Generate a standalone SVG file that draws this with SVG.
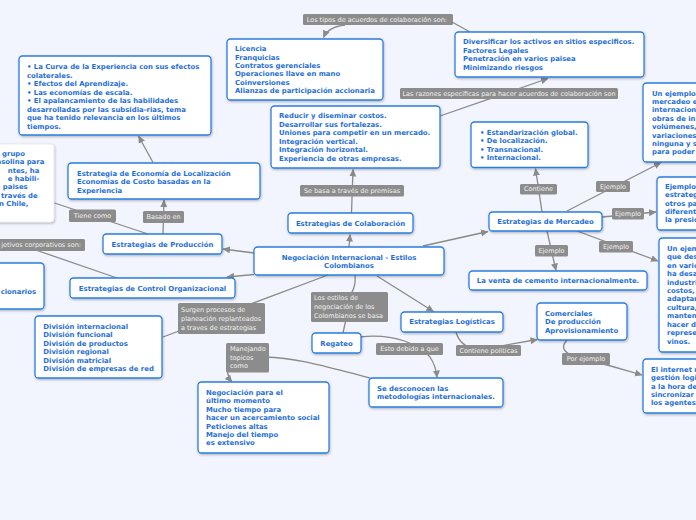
<svg xmlns="http://www.w3.org/2000/svg" width="696" height="520" viewBox="0 0 696 520">
<defs>
<filter id="sh" x="-10%" y="-10%" width="130%" height="140%"><feDropShadow dx="0.6" dy="1.2" stdDeviation="0.8" flood-color="#000" flood-opacity="0.28"/></filter>
<marker id="ar" markerWidth="8" markerHeight="8" refX="7" refY="4" orient="auto" markerUnits="userSpaceOnUse"><path d="M0,0.5 L7.5,4 L0,7.5 z" fill="#8a8a8a"/></marker>
<style>
.n{fill:#fff;stroke:#2a7de1;stroke-width:1.3;filter:url(#sh)}
.u{fill:#fff;stroke:#e2e6ee;stroke-width:0.8;filter:url(#sh)}
.t{font-family:"DejaVu Sans",Verdana,sans-serif;font-size:6.9px;font-weight:bold;fill:#1f6fd6}
.m{text-anchor:middle}
.lb{fill:#8c8c8c}
.lt{font-family:"DejaVu Sans",Verdana,sans-serif;font-size:6.5px;fill:#f2f2f2}
.c{fill:none;stroke:#8a8a8a;stroke-width:1.3}
.a{marker-end:url(#ar)}
</style>
</defs>
<rect width="696" height="520" fill="#f2f5fd"/>
<g id="connectors">
<path class="c" d="M470,32 L452,22"/>
<path class="c a" d="M345,25 Q328,27 323.5,37.5"/>
<path class="c a" d="M440,116 L548,78.5"/>
<path class="c a" d="M351.5,213 L353,169.5"/>
<path class="c a" d="M349,247 L350,234.5"/>
<path class="c a" d="M423,246 L488,231.5"/>
<path class="c a" d="M542,212 L535.5,168.5"/>
<path class="c a" d="M567,211 L661,162.5"/>
<path class="c a" d="M602,217 L656,212"/>
<path class="c a" d="M577,231 L658,261"/>
<path class="c a" d="M547,231 L556,270.5"/>
<path class="c a" d="M254,253 L223,249"/>
<path class="c a" d="M254,274.5 L227,277"/>
<path class="c a" d="M163,234 L164,200"/>
<path class="c a" d="M153,162.5 L138.5,136"/>
<path class="c" d="M148,234 L53,202.5"/>
<path class="c" d="M117,278 L30,248"/>
<path class="c" d="M328,275 L163,337"/>
<path class="c" d="M355,275 Q356,285 352,292 L343,333"/>
<path class="c a" d="M377,276 L433.5,311.5"/>
<path class="c a" d="M456,332 Q460,347 478,350 L537.5,339.5"/>
<path class="c a" d="M567,340 Q556,352 580,358 Q612,366 642,375"/>
<path class="c a" d="M360,337 C395,333 420,345 430,357 Q436,366 437,377.5"/>
<path class="c" d="M370,378 C330,368 300,358 265,357"/>
<path class="c a" d="M229,364 Q225,374 232,382"/>
</g>
<g id="labels">
<rect class="lb" x="303" y="14" width="150" height="11" rx="1.5"/><text class="lt" x="306.7" y="21.6">Los tipos de acuerdos de colaboración son:</text>
<rect class="lb" x="400" y="88" width="218" height="11" rx="1.5"/><text class="lt" x="402.5" y="95.6">Las razones especificas para hacer acuerdos de colaboración son</text>
<rect class="lb" x="300" y="185" width="104" height="11.5" rx="1.5"/><text class="lt m" x="352" y="193">Se basa a través de premisas</text>
<rect class="lb" x="520" y="184" width="37" height="10.5" rx="1.5"/><text class="lt m" x="538.5" y="191.4">Contiene</text>
<rect class="lb" x="596" y="181" width="34" height="11" rx="1.5"/><text class="lt m" x="613" y="188.6">Ejemplo</text>
<rect class="lb" x="612" y="208" width="32" height="11.5" rx="1.5"/><text class="lt m" x="628" y="216">Ejemplo</text>
<rect class="lb" x="599" y="241" width="34" height="11.5" rx="1.5"/><text class="lt m" x="616" y="249">Ejemplo</text>
<rect class="lb" x="535" y="245" width="33" height="11.5" rx="1.5"/><text class="lt m" x="551.5" y="253.2">Ejemplo</text>
<rect class="lb" x="69" y="209.5" width="47" height="12.5" rx="1.5"/><text class="lt m" x="92.5" y="218">Tiene como</text>
<rect class="lb" x="143" y="211" width="41" height="12" rx="1.5"/><text class="lt m" x="163.5" y="219.2">Basado en</text>
<rect class="lb" x="-5" y="239" width="90" height="12" rx="1.5"/><text class="lt" x="81" y="247.2" text-anchor="end">jetivos corporativos son:</text>
<rect class="lb" x="178" y="303" width="87" height="31" rx="1.5"/><text class="lt" x="181" y="312.2">Surgen procesos de</text><text class="lt" x="181" y="321.2">planeación replanteados</text><text class="lt" x="181" y="329.9">a traves de estrategias</text>
<rect class="lb" x="311" y="292" width="77" height="30" rx="1.5"/><text class="lt" x="314" y="300.2">Los estilos de</text><text class="lt" x="314" y="309.1">negociación de los</text><text class="lt" x="314" y="318">Colombianos se basa</text>
<rect class="lb" x="226" y="343" width="43" height="29.5" rx="1.5"/><text class="lt" x="230" y="350.6">Manejando</text><text class="lt" x="230" y="359.5">topicos</text><text class="lt" x="230" y="368.3">como</text>
<rect class="lb" x="376" y="343" width="67" height="12" rx="1.5"/><text class="lt m" x="409.5" y="351.2">Esto debido a que</text>
<rect class="lb" x="456" y="345" width="65" height="11" rx="1.5"/><text class="lt m" x="488.5" y="352.9">Contiene politicas</text>
<rect class="lb" x="562" y="353" width="48" height="12" rx="1.5"/><text class="lt m" x="586" y="361.3">Por ejemplo</text>
</g>
<g id="nA"><rect class="n" x="19" y="56" width="192" height="79" rx="3.5"/>
<text class="t" x="27" y="69">• La Curva de la Experiencia con sus efectos</text>
<text class="t" x="27" y="77.5">colaterales.</text>
<text class="t" x="27" y="86">• Efectos del Aprendizaje.</text>
<text class="t" x="27" y="94.5">• Las economías de escala.</text>
<text class="t" x="27" y="103">• El apalancamiento de las habilidades</text>
<text class="t" x="27" y="111.5">desarrolladas por las subsidia-rias, tema</text>
<text class="t" x="27" y="120">que ha tenido relevancia en los últimos</text>
<text class="t" x="27" y="128.5">tiempos.</text></g>
<g id="nB"><rect class="n" x="227" y="39" width="156" height="61" rx="3.5"/>
<text class="t" x="235" y="51.4">Licencia</text>
<text class="t" x="235" y="59.7">Franquicias</text>
<text class="t" x="235" y="68">Contratos gerenciales</text>
<text class="t" x="235" y="76.3">Operaciones llave en mano</text>
<text class="t" x="235" y="84.6">Coinversiones</text>
<text class="t" x="235" y="92.9">Alianzas de participación accionaria</text></g>
<g id="nC"><rect class="n" x="455" y="32" width="189" height="45" rx="3.5"/>
<text class="t" x="463" y="44.1">Diversificar los activos en sitios especificos.</text>
<text class="t" x="463" y="52.7">Factores Legales</text>
<text class="t" x="463" y="61.2">Penetración en varios paisea</text>
<text class="t" x="463" y="69.8">Minimizando riesgos</text></g>
<g id="nD"><rect class="n" x="271" y="106" width="169" height="62" rx="3.5"/>
<text class="t" x="279" y="118.4">Reducir y diseminar costos.</text>
<text class="t" x="279" y="126.9">Desarrollar sus fortalezas.</text>
<text class="t" x="279" y="135.3">Uniones para competir en un mercado.</text>
<text class="t" x="279" y="143.8">Integración vertical.</text>
<text class="t" x="279" y="152.2">Integración horizontal.</text>
<text class="t" x="279" y="160.7">Experiencia de otras empresas.</text></g>
<g id="nE"><rect class="n" x="288" y="213" width="125" height="20" rx="3.5"/>
<text class="t m" x="350.5" y="225.7">Estrategias de Colaboración</text></g>
<g id="nF"><rect class="n" x="471" y="122" width="117" height="45.5" rx="3.5"/>
<text class="t" x="480" y="135">• Estandarización global.</text>
<text class="t" x="480" y="143.3">• De localización.</text>
<text class="t" x="480" y="151.7">• Transnacional.</text>
<text class="t" x="480" y="160">• Internacional.</text></g>
<g id="nG"><rect class="n" x="643" y="83" width="70" height="79" rx="3.5"/>
<text class="t" x="652" y="95.5">Un ejemplo</text>
<text class="t" x="652" y="103.9">mercadeo e</text>
<text class="t" x="652" y="112.3">internacion</text>
<text class="t" x="652" y="120.7">obras de in</text>
<text class="t" x="652" y="129.1">volúmenes,</text>
<text class="t" x="652" y="137.5">variaciones</text>
<text class="t" x="652" y="145.9">ninguna y s</text>
<text class="t" x="652" y="154.3">para poder</text></g>
<g id="nH"><rect class="n" x="657" y="177" width="60" height="53" rx="3.5"/>
<text class="t" x="665" y="189">Ejemplo</text>
<text class="t" x="665" y="197.3">estrateg</text>
<text class="t" x="665" y="205.7">otros pa</text>
<text class="t" x="665" y="214">diferent</text>
<text class="t" x="665" y="222.4">la presió</text></g>
<g id="nI"><rect class="n" x="659" y="238" width="60" height="114" rx="3.5"/>
<text class="t" x="667" y="250.7">Un ejem</text>
<text class="t" x="667" y="259.1">que des</text>
<text class="t" x="667" y="267.6">en vario</text>
<text class="t" x="667" y="276">ha desa</text>
<text class="t" x="667" y="284.5">industri</text>
<text class="t" x="667" y="292.9">costos,</text>
<text class="t" x="667" y="301.4">adaptar</text>
<text class="t" x="667" y="309.8">cultura,</text>
<text class="t" x="667" y="318.3">manten</text>
<text class="t" x="667" y="326.7">hacer d</text>
<text class="t" x="667" y="335.2">represe</text>
<text class="t" x="667" y="343.6">vinos.</text></g>
<g id="nJ"><rect class="n" x="643" y="359" width="70" height="54" rx="3.5"/>
<text class="t" x="651" y="371.7">El internet r</text>
<text class="t" x="651" y="380.1">gestión logi</text>
<text class="t" x="651" y="388.5">a la hora de</text>
<text class="t" x="651" y="396.9">sincronizar</text>
<text class="t" x="651" y="405.3">los agentes</text></g>
<g id="nK"><rect class="n" x="489" y="212" width="113" height="19" rx="3.5"/>
<text class="t m" x="545.5" y="224.1">Estrategias de Mercadeo</text></g>
<g id="nL"><rect class="n" x="469" y="271" width="178" height="19" rx="3.5"/>
<text class="t m" x="558" y="282.6">La venta de cemento internacionalmente.</text></g>
<g id="nM"><rect class="n" x="537" y="303" width="90" height="37" rx="3.5"/>
<text class="t" x="545" y="315.7">Comerciales</text>
<text class="t" x="545" y="324.1">De producción</text>
<text class="t" x="545" y="332.9">Aprovisionamiento</text></g>
<g id="nN"><rect class="n" x="401" y="312" width="102" height="20" rx="3.5"/>
<text class="t m" x="452" y="324.3">Estrategias Logísticas</text></g>
<g id="nO"><rect class="n" x="369" y="378" width="134" height="29" rx="3.5"/>
<text class="t" x="377" y="391.1">Se desconocen las</text>
<text class="t" x="377" y="399.2">metodologías internacionales.</text></g>
<g id="nP"><rect class="n" x="312" y="333" width="49" height="20" rx="3.5"/>
<text class="t m" x="336.5" y="345.7">Regateo</text></g>
<g id="nQ"><rect class="n" x="254" y="247" width="190" height="28" rx="3.5"/>
<text class="t m" x="349" y="259.7">Negociación Internacional - Estilos</text>
<text class="t m" x="349" y="268.1">Colombianos</text></g>
<g id="nR"><rect class="n" x="103" y="234" width="119" height="20" rx="3.5"/>
<text class="t m" x="162.5" y="246.7">Estrategias de Producción</text></g>
<g id="nS"><rect class="n" x="70" y="278" width="165" height="20" rx="3.5"/>
<text class="t m" x="152.5" y="290.7">Estrategias de Control Organizacional</text></g>
<g id="nT"><rect class="n" x="68" y="163" width="192" height="36" rx="3.5"/>
<text class="t" x="77" y="175.7">Estrategia de Economía de Localización</text>
<text class="t" x="77" y="184.2">Economías de Costo basadas en la</text>
<text class="t" x="77" y="192.9">Experiencia</text></g>
<g id="nU"><rect class="u" x="-10" y="144" width="64" height="78" rx="3"/>
<text class="t" text-anchor="end" x="25" y="155.7">grupo</text>
<text class="t" text-anchor="end" x="44.3" y="164.1">asolina para</text>
<text class="t" text-anchor="end" x="39.3" y="172.5">ntes, ha</text>
<text class="t" text-anchor="end" x="39.3" y="180.9">e habili-</text>
<text class="t" text-anchor="end" x="27.7" y="189.3">paises</text>
<text class="t" text-anchor="end" x="37.7" y="197.7">través de</text>
<text class="t" text-anchor="end" x="28.3" y="206.3">n Chile,</text></g>
<g id="nV"><rect class="n" x="-10" y="263" width="54" height="46" rx="3.5"/>
<text class="t" text-anchor="end" x="36" y="294">cionarios</text></g>
<g id="nW"><rect class="n" x="35" y="316" width="127" height="62" rx="3.5"/>
<text class="t" x="43.3" y="329">División internacional</text>
<text class="t" x="43.3" y="337.4">División funcional</text>
<text class="t" x="43.3" y="345.8">División de productos</text>
<text class="t" x="43.3" y="354.2">División regional</text>
<text class="t" x="43.3" y="362.6">División matricial</text>
<text class="t" x="43.3" y="371">División de empresas de red</text></g>
<g id="nX"><rect class="n" x="198" y="382" width="131" height="71" rx="3.5"/>
<text class="t" x="206" y="394.7">Negociación para el</text>
<text class="t" x="206" y="403.1">último momento</text>
<text class="t" x="206" y="411.6">Mucho tiempo para</text>
<text class="t" x="206" y="420">hacer un acercamiento social</text>
<text class="t" x="206" y="428.5">Peticiones altas</text>
<text class="t" x="206" y="436.9">Manejo del tiempo</text>
<text class="t" x="206" y="445.4">es extensivo</text></g>
</svg>
